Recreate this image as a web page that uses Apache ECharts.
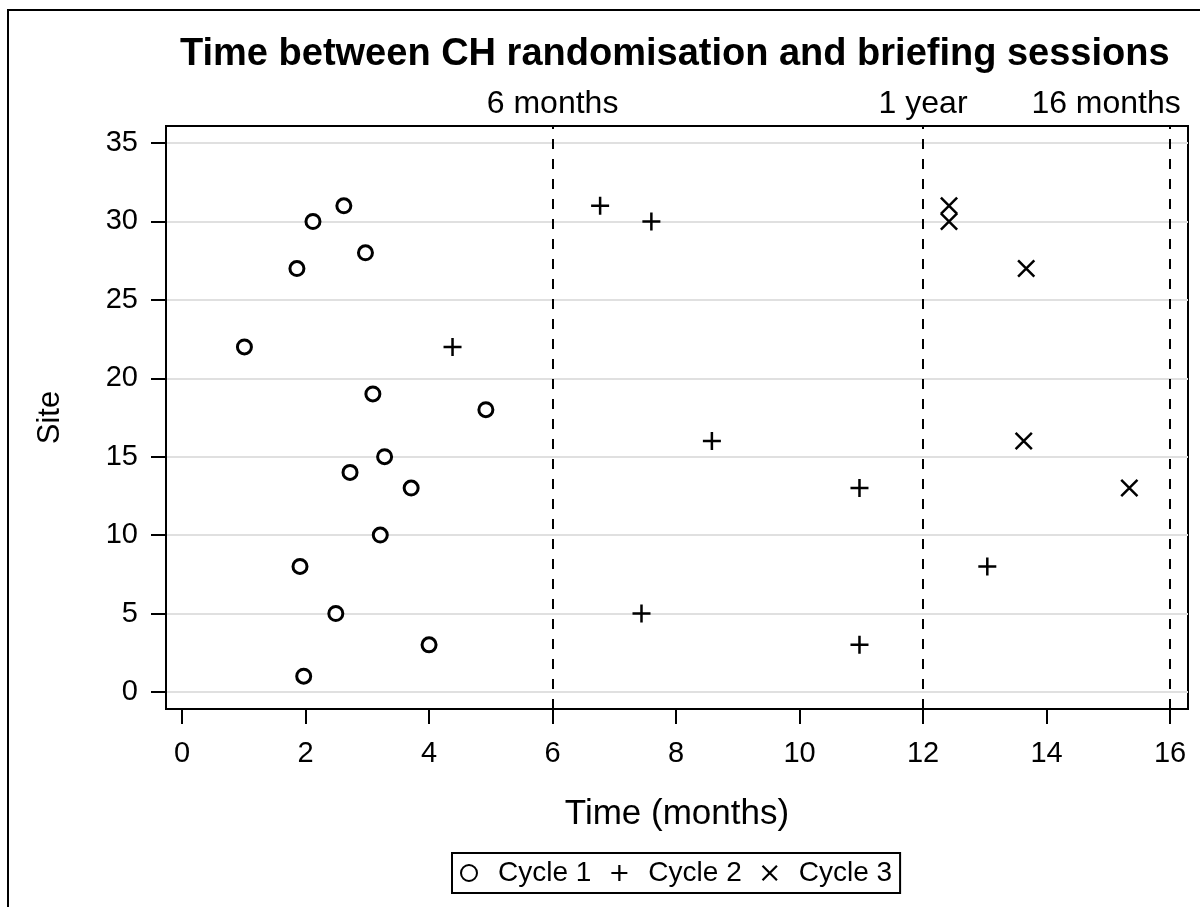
<!DOCTYPE html>
<html>
<head>
<meta charset="utf-8">
<script src="https://cdn.jsdelivr.net/npm/echarts@6/dist/echarts.min.js"></script>
<style>
  html, body { margin: 0; padding: 0; background: #fff; }
  #main { width: 1200px; height: 907px; }
</style>
</head>
<body>
<div id="main"></div>
<script>
// site number and time (months) for each briefing cycle
var cycle1Sites = [31, 30, 28, 27, 22, 19, 18, 15, 14, 13, 10, 8, 5, 3, 1]
var cycle1Times = [2.62, 2.12, 2.97, 1.86, 1.01, 3.09, 4.92, 3.28, 2.72, 3.71, 3.21, 1.91, 2.49, 4.0, 1.97]

var cycle2Sites = [31, 30, 22, 16, 13, 8, 5, 3]
var cycle2Times = [6.77, 7.60, 4.38, 8.58, 10.97, 13.04, 7.44, 10.97]

var cycle3Sites = [31, 30, 27, 16, 13]
var cycle3Times = [12.42, 12.42, 13.67, 13.63, 15.34]

// reference lines
var refValues = [6, 12, 16]
var refLabels = ['6 months', '1 year', '16 months']

// tick labels
var xTicks = [0, 2, 4, 6, 8, 10, 12, 14, 16]
var yTicks = [0, 5, 10, 15, 20, 25, 30, 35]

var FONT = '"Liberation Sans", Arial, sans-serif'

function pairs(xs, ys) {
  var out = []
  for (var i = 0; i < xs.length; i++) out.push([xs[i], ys[i]])
  return out
}

// symbols
var plusPath = 'path://M7.75,0h2.5v18h-2.5zM0,7.75h18v2.5h-18z'
var crossPath = 'path://M0,1.77L1.77,0L18,16.23L16.23,18zM16.23,0L18,1.77L1.77,18L0,16.23z'

var chart = echarts.init(document.getElementById('main'))

var refData = refValues.map(function (v, i) {
  var item = { xAxis: v, label: { formatter: refLabels[i] } }
  if (i === refValues.length - 1) {
    // last label sits left of its line, inside the canvas
    item.label.padding = [0, 128, 0, 0]
  }
  return item
})

var option = {
  backgroundColor: '#fff',
  animation: false,
  title: {
    text: 'Time between CH randomisation and briefing sessions',
    left: 180,
    top: 36,
    padding: 0,
    textStyle: {
      fontFamily: FONT,
      fontSize: 38,
      fontWeight: 'bold',
      color: '#000'
    }
  },
  grid: {
    left: 166,
    right: 12,
    top: 126,
    bottom: 198,
    show: true,
    borderColor: '#000',
    borderWidth: 2,
    backgroundColor: '#fff'
  },
  legend: {
    left: 452,
    top: 853,
    orient: 'horizontal',
    padding: [6, 8, 6, 8],
    itemGap: 20,
    itemWidth: 24,
    itemHeight: 16,
    borderColor: '#000',
    borderWidth: 2,
    selectedMode: false,
    textStyle: {
      fontFamily: FONT,
      fontSize: 28,
      color: '#000',
      padding: [0, 0, 0, 12]
    },
    data: ['Cycle 1', 'Cycle 2', 'Cycle 3']
  },
  xAxis: {
    type: 'value',
    min: -0.26,
    max: 16.29,
    name: 'Time (months)',
    nameLocation: 'middle',
    nameGap: 88,
    nameTextStyle: { fontFamily: FONT, fontSize: 35, color: '#000' },
    axisLine: { show: true, onZero: false, lineStyle: { color: '#000', width: 2 } },
    axisTick: { show: true, customValues: xTicks, length: 15, lineStyle: { color: '#000', width: 2 } },
    axisLabel: { customValues: xTicks, fontFamily: FONT, fontSize: 29, color: '#000', margin: 30 },
    splitLine: { show: false }
  },
  yAxis: {
    type: 'value',
    min: -1.09,
    max: 36.09,
    name: 'Site',
    nameLocation: 'middle',
    nameGap: 100,
    nameRotate: 90,
    nameTextStyle: { fontFamily: FONT, fontSize: 31, color: '#000' },
    axisLine: { show: true, onZero: false, lineStyle: { color: '#000', width: 2 } },
    axisTick: { show: true, customValues: yTicks, length: 15, lineStyle: { color: '#000', width: 2 } },
    axisLabel: { customValues: yTicks, fontFamily: FONT, fontSize: 29, color: '#000', margin: 28 },
    splitLine: { show: true, lineStyle: { color: '#e0e0e0', width: 2 } }
  },
  graphic: [
    {
      type: 'rect',
      shape: { x: 8, y: 10, width: 1300, height: 1000 },
      style: { fill: 'none', stroke: '#000', lineWidth: 2 },
      silent: true,
      z: 100
    }
  ],
  series: [
    {
      name: 'Cycle 1',
      type: 'scatter',
      symbol: 'circle',
      symbolSize: 14,
      itemStyle: { color: '#fff', borderColor: '#000', borderWidth: 3, opacity: 1 },
      data: pairs(cycle1Times, cycle1Sites),
      z: 5,
      markLine: {
        silent: true,
        symbol: ['none', 'none'],
        lineStyle: { color: '#000', width: 2, type: [10, 10] },
        label: {
          show: true,
          position: 'end',
          distance: 6,
          fontFamily: FONT,
          fontSize: 32,
          color: '#000'
        },
        data: refData,
        z: 3
      }
    },
    {
      name: 'Cycle 2',
      type: 'scatter',
      symbol: plusPath,
      symbolSize: 18,
      itemStyle: { color: '#000', opacity: 1 },
      data: pairs(cycle2Times, cycle2Sites),
      z: 5
    },
    {
      name: 'Cycle 3',
      type: 'scatter',
      symbol: crossPath,
      symbolSize: 18,
      itemStyle: { color: '#000', opacity: 1 },
      data: pairs(cycle3Times, cycle3Sites),
      z: 5
    }
  ]
}

chart.setOption(option)
</script>
</body>
</html>
